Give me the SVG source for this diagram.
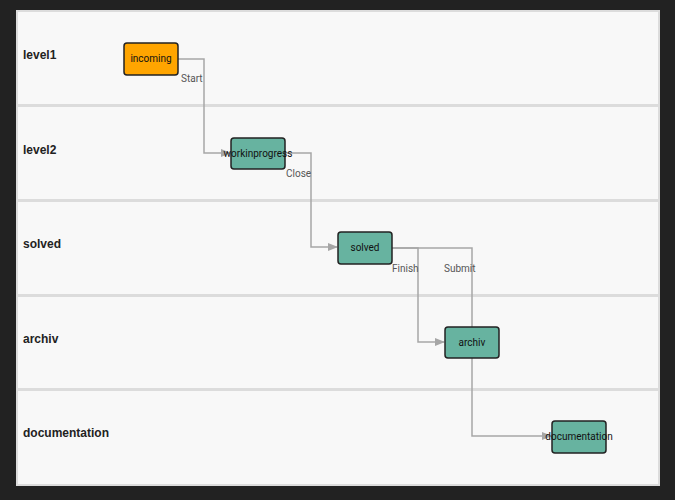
<svg xmlns="http://www.w3.org/2000/svg" width="675" height="500" viewBox="0 0 675 500">
<style>
.lane{fill:#f8f8f8}
.lt{font:bold 12px "Liberation Sans",Arial,sans-serif;fill:#222}
.n{fill:#67b3a0;stroke:#222;stroke-width:1.5}
.nt{font:10px "Roboto","Liberation Sans",sans-serif;fill:#111;text-anchor:middle}
.c{fill:none;stroke:#a6a6a6;stroke-width:1.5}
.cl{font:10px "Roboto","Liberation Sans",sans-serif;fill:#555}
</style>
<defs><marker id="a" markerWidth="10" markerHeight="8" refX="9" refY="4" orient="auto" markerUnits="userSpaceOnUse"><path d="M0,0L10,4L0,8z" fill="#a6a6a6"/></marker></defs>
<rect width="675" height="500" fill="#222"/>
<rect x="16" y="10" width="644" height="476" fill="#dcdcdc"/>
<g id="lanes">
<rect class="lane" x="18" y="12" width="640" height="92"/>
<rect class="lane" x="18" y="107" width="640" height="92"/>
<rect class="lane" x="18" y="202" width="640" height="92"/>
<rect class="lane" x="18" y="297" width="640" height="91"/>
<rect class="lane" x="18" y="391" width="640" height="93"/>
<text class="lt" x="23" y="59">level1</text>
<text class="lt" x="23" y="154">level2</text>
<text class="lt" x="23" y="248">solved</text>
<text class="lt" x="23" y="343">archiv</text>
<text class="lt" x="23" y="437">documentation</text>
</g>
<g id="connectors">
<path class="c" d="M178,59H204V153H230" marker-end="url(#a)"/>
<text class="cl" x="181" y="82">Start</text>
<path class="c" d="M285,153H311V247H337" marker-end="url(#a)"/>
<text class="cl" x="286" y="177">Close</text>
<path class="c" d="M392,248H418V342H444" marker-end="url(#a)"/>
<text class="cl" x="392" y="272">Finish</text>
<path class="c" d="M392,248H472V436H551" marker-end="url(#a)"/>
<text class="cl" x="444" y="272">Submit</text>
</g>
<g id="incoming"><rect x="124" y="43" width="54" height="32" rx="3" fill="#ffa500" stroke="#222" stroke-width="1.5"/><text class="nt" x="151" y="62">incoming</text></g>
<g id="workinprogress"><rect class="n" x="231" y="138" width="54" height="31" rx="3"/><text class="nt" x="258" y="157">workinprogress</text></g>
<g id="solved"><rect class="n" x="338" y="232" width="54" height="32" rx="3"/><text class="nt" x="365" y="251">solved</text></g>
<g id="archiv"><rect class="n" x="445" y="327" width="54" height="31" rx="3"/><text class="nt" x="472" y="346">archiv</text></g>
<g id="documentation"><rect class="n" x="552" y="421" width="54" height="32" rx="3"/><text class="nt" x="579" y="440">documentation</text></g>
</svg>
